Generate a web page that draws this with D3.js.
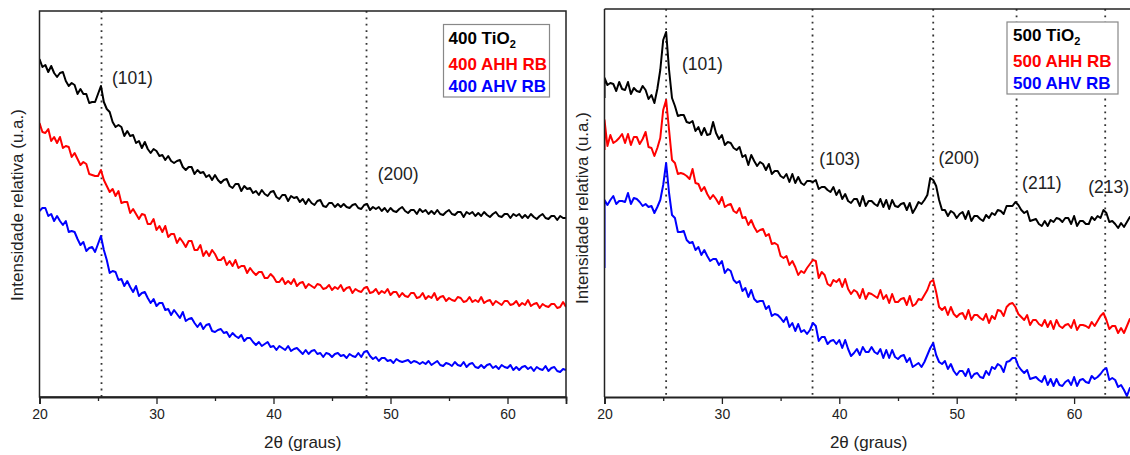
<!DOCTYPE html>
<html><head><meta charset="utf-8">
<script src="https://cdn.jsdelivr.net/npm/d3@7"></script>
<style>
body{margin:0;background:#fff;}
text{font-family:"Liberation Sans",Arial,Helvetica,sans-serif;}
</style>
</head><body>
<svg id="chart" width="1130" height="455"></svg>
<script>
// ---------- DATA ----------
const twoTheta = d3.range(20, 65.001, 0.25);          // 2θ grid (degrees)
const twoThetaR = [20].concat(twoTheta);              // right panel (first reading at 20°)
const xTicks = [20, 30, 40, 50, 60];
const xMinorTicks = [25, 35, 45, 55, 65];

const leftNames = ["400 TiO2", "400 AHH RB", "400 AHV RB"];
const rightNames = ["500 TiO2", "500 AHH RB", "500 AHV RB"];
const seriesColors = ["#000000", "#ff0000", "#0000ff"];

const left400TiO2 = [341,333,335,328, 334,327,323,327, 328,319,314,317, 315,306,311,306, 306,297,298,298, 306,314,298,291, 288,278,273,275, 273,264,269,264, 265,257,259,252, 258,251,247,251, 249,244,245,240, 244,239,237,239, 240,233,230,233, 233,226,230,227, 228,223,225,220, 225,220,217,220, 221,214,212,216, 216,209,214,211, 212,207,209,205, 210,206,204,208, 209,203,201,205, 205,199,204,202, 203,198,201,196, 201,197,195,199, 200,194,193,197, 197,193,196,193, 196,193,192,195, 196,192,191,195, 196,190,193,191, 193,189,192,188, 192,189,188,191, 193,189,187,190, 190,186,191,188, 190,186,189,186, 190,186,185,188, 190,186,185,188, 188,183,188,186, 188,184,187,184, 188,185,183,186, 188,184,183,186, 186,182,186,184, 186,182,185,182, 186,183,181,184, 186,182,181,184, 184,180,184,182, 182];
const left400AHH = [277,268,267,271, 259,263,257,263, 252,254,253,243, 247,241,235,238, 236,226,225,224, 224,230,220,214, 208,211,204,209, 197,198,198,187, 191,186,181,186, 185,176,176,181, 170,174,168,174, 163,166,166,157, 162,158,153,159, 159,150,150,155, 144,149,144,150, 146,140,140,143, 135,139,134,140, 132,134,134,127, 132,128,125,128, 128,122,122,126, 123,118,118,122, 116,119,116,121, 114,117,118,112, 116,114,112,116, 115,111,112,115, 110,113,111,115, 109,112,113,107, 111,109,108,112, 113,107,108,111, 106,109,107,111, 105,108,108,103, 107,104,103,107, 107,102,103,107, 101,104,102,107, 100,103,104,99, 102,100,99,103, 102,98,99,103, 98,100,98,103, 97,99,100,95, 99,97,95,99, 99,95,96,99, 94,97,95,100, 94,96,97,92, 96,94,93,96, 96,92,93,98, 93];
const left400AHV = [189,192,192,184, 186,179,184,179, 175,179,168,169, 168,161,155,158, 149,152,153,148, 156,164,150,140, 127,129,128,120, 121,114,119,113, 108,114,104,107, 108,102,97,101, 94,97,97,90, 91,85,90,86, 82,88,79,81, 82,77,73,77, 71,75,76,69, 68,70,71,67, 68,63,67,64, 62,65,59,62, 62,58,55,58, 54,56,58,53, 54,50,54,52, 50,54,49,51, 52,49,46,50, 46,49,50,46, 47,43,47,46, 43,46,47,44, 45,42,46,44, 43,47,43,48, 49,44,41,43, 39,42,42,39, 40,37,41,39, 38,39,40,37, 39,38,36,38, 36,39,35,37, 39,35,34,37, 36,34,38,35, 34,38,33,36, 37,33,32,35, 32,35,36,32, 34,31,35,33, 32,35,30,33, 30,33,34,31, 33,29,33,31, 30,34,29,32, 33,29,28,31, 30];

const right500TiO2 = [302, 322,315,317,316, 309,318,311,310, 318,306,312,309, 308,314,310,301, 305,297,311,330, 360,368,330,302, 294,284,285,285, 278,277,279,269, 273,265,272,265, 266,278,267,261, 265,255,258,257, 252,250,253,243, 245,235,245,239, 234,238,236,230, 236,226,229,229, 224,222,226,218, 226,217,223,217, 215,219,219,218, 220,211,213,213, 210,208,213,205, 210,201,206,199, 197,201,201,194, 204,194,199,199, 196,194,201,193, 200,191,200,194, 193,196,197,190, 197,187,192,198, 196,200,205,222, 220,214,200,190, 190,184,189,187, 182,186,188,181, 189,179,184,184, 181,179,185,182, 187,185,190,189, 186,194,194,194, 198,195,190,187, 189,179,180,181, 176,174,179,174, 180,178,182,181, 178,182,182,176, 184,174,179,179, 176,176,183,180, 184,182,190,187, 178,179,176,172, 177,173,178,183, 180];
const right500AHH = [250, 280,254,265,257, 259,262,266,257, 266,255,263,263, 256,261,268,253, 252,244,252,262, 290,300,270,240, 237,226,227,226, 224,221,231,217, 216,209,213,206, 201,205,201,196, 203,193,195,196, 189,187,192,182, 183,175,180,173, 168,170,171,164, 166,156,157,155, 144,142,144,135, 139,133,125,129, 127,132,136,140, 139,122,128,125, 116,114,120,118, 121,113,121,111, 106,110,108,102, 111,101,107,106, 104,102,110,101, 105,97,106,98, 98,101,102,95, 104,94,96,101, 100,105,110,118, 120,108,93,90, 93,85,93,86, 83,86,87,81, 90,80,85,85, 82,80,86,77, 84,81,90,89, 84,93,96,97, 93,86,83,80, 85,75,80,80, 76,74,80,73, 79,71,80,74, 72,75,76,72, 80,70,75,75, 74,72,78,74, 79,84,87,80, 71,74,74,67, 72,67,74,81, 80];
const right500AHV = [132, 200,195,200,204, 196,199,199,198, 207,196,202,201, 198,194,196,193, 194,187,193,200, 215,237,207,185, 182,168,168,169, 160,157,158,150, 153,145,150,144, 139,141,141,135, 139,127,131,129, 120,117,119,109, 112,103,110,101, 98,99,99,91, 94,84,86,85, 82,78,83,73, 77,69,76,68, 70,66,70,77, 74,59,63,63, 56,59,60,56, 60,52,60,51, 44,47,51,45, 53,48,48,53, 48,46,51,42, 50,42,50,43, 41,44,45,38, 42,33,35,37, 33,38,45,52, 57,45,38,36, 39,31,36,29, 25,29,29,24, 31,22,26,27, 23,22,29,25, 33,31,36,34, 28,38,39,42, 42,34,30,27, 30,21,22,23, 20,18,24,15, 21,14,21,15, 14,18,20,15, 23,14,20,21, 18,17,24,21, 23,26,30,32, 20,22,20,13, 15,10,4,12, 8];

const leftPeakPositions = [25.3, 47.95];
const leftPeakLabels = ["(101)", "(200)"];
const rightPeakPositions = [25.25, 37.72, 48.0, 55.1, 62.65];
const rightPeakLabels = ["(101)", "(103)", "(200)", "(211)", "(213)"];

const xTitle = "2θ (graus)";
const yTitle = "Intensidade relativa (u.a.)";

// ---------- DRAW ----------
const svg = d3.select("#chart");
const textColor = "#222";

function drawPanel(cfg) {
  const g = svg.append("g");
  const x = d3.scaleLinear().domain([20, 65]).range([cfg.left, cfg.right]);
  const y = d3.scaleLinear().domain(cfg.yDomain).range([cfg.bottom, cfg.top]);

  const clipId = "clip" + cfg.id;
  svg.append("clipPath").attr("id", clipId).append("rect")
    .attr("x", cfg.left).attr("y", cfg.top)
    .attr("width", cfg.right - cfg.left).attr("height", cfg.bottom - cfg.top);

  // dotted reference lines
  g.selectAll("line.ref").data(cfg.peaks).enter().append("line")
    .attr("x1", d => x(d)).attr("x2", d => x(d))
    .attr("y1", cfg.top).attr("y2", cfg.bottom)
    .attr("stroke", "#333").attr("stroke-width", 1.8)
    .attr("stroke-dasharray", "1.8,4.6");

  // series
  const line = d3.line().x(d => x(d[0])).y(d => y(d[1]));
  const lines = g.append("g").attr("clip-path", `url(#${clipId})`);
  cfg.series.forEach((vals, i) => {
    const pts = vals.map((v, k) => [cfg.xs[k], v]);
    lines.append("path").datum(pts)
      .attr("d", line).attr("fill", "none")
      .attr("stroke", seriesColors[i]).attr("stroke-width", cfg.lineWidth)
      .attr("stroke-linejoin", "round");
  });

  // frame
  if (cfg.fullBox) {
    g.append("rect").attr("x", cfg.left).attr("y", cfg.top)
      .attr("width", cfg.right - cfg.left).attr("height", cfg.bottom - cfg.top)
      .attr("fill", "none").attr("stroke", "#222").attr("stroke-width", 1.5);
  } else {
    g.append("line").attr("x1", cfg.left).attr("x2", cfg.right)
      .attr("y1", cfg.top).attr("y2", cfg.top).attr("stroke", "#222").attr("stroke-width", 1.5);
    g.append("line").attr("x1", cfg.left).attr("x2", cfg.left)
      .attr("y1", cfg.top).attr("y2", cfg.bottom).attr("stroke", "#222").attr("stroke-width", 1.5);
  }

  // x axis: major + minor ticks
  const axG = g.append("g").attr("transform", `translate(0,${cfg.bottom})`)
    .call(d3.axisBottom(x).tickValues(xTicks).tickSize(7).tickPadding(5).tickFormat(d3.format("d")));
  axG.select(".domain").attr("stroke", "#222").attr("stroke-width", 1.8);
  axG.selectAll(".tick line").attr("stroke", "#222").attr("stroke-width", 1.3);
  axG.selectAll(".tick text").attr("font-size", 14).attr("fill", textColor)
    .style("font-family", '"Liberation Sans",Arial,sans-serif');
  const minG = g.append("g").attr("transform", `translate(0,${cfg.bottom})`)
    .call(d3.axisBottom(x).tickValues(xMinorTicks).tickSize(4).tickFormat(""));
  minG.select(".domain").remove();
  minG.selectAll(".tick line").attr("stroke", "#222").attr("stroke-width", 1.3);

  // titles
  g.append("text").attr("x", (cfg.left + Math.min(cfg.right, 1133)) / 2).attr("y", 448)
    .attr("text-anchor", "middle").attr("font-size", 17).attr("fill", textColor).text(xTitle);
  g.append("text").attr("transform", `translate(${cfg.yLabelX},${cfg.yLabelY}) rotate(-90)`)
    .attr("text-anchor", "middle").attr("font-size", 17).attr("fill", textColor).text(yTitle);

  // peak labels
  g.selectAll("text.peak").data(cfg.peakLabels).enter().append("text")
    .attr("x", (d, i) => x(cfg.peakLabelAt[i][0])).attr("y", (d, i) => y(cfg.peakLabelAt[i][1]))
    .attr("font-size", 17.5).attr("fill", textColor).text(d => d);

  // legend
  const lg = g.append("g");
  lg.append("rect").attr("x", cfg.legend.x).attr("y", cfg.legend.y)
    .attr("width", cfg.legend.w).attr("height", cfg.legend.h)
    .attr("fill", "#fff").attr("stroke", "#888").attr("stroke-width", 1.2);
  cfg.names.forEach((name, i) => {
    const t = lg.append("text").attr("x", cfg.legend.x + cfg.legend.pad)
      .attr("y", cfg.legend.baselines[i]).attr("font-size", 17)
      .attr("font-weight", "bold").attr("fill", seriesColors[i]);
    const m = name.match(/^(.*TiO)(2)$/);
    if (m) {
      t.append("tspan").text(m[1]);
      t.append("tspan").attr("font-size", 11).attr("dy", 4).text(m[2]);
    } else {
      t.text(name);
    }
  });
}

drawPanel({
  id: "L", left: 39.5, right: 566, top: 11, bottom: 397, yDomain: [3, 389],
  xs: twoTheta, series: [left400TiO2, left400AHH, left400AHV], lineWidth: 2,
  peaks: leftPeakPositions, peakLabels: leftPeakLabels,
  peakLabelAt: [[26.2, 316], [48.9, 220]],
  fullBox: true, yLabelX: 23, yLabelY: 205, names: leftNames,
  legend: {x: 443.5, y: 24.5, w: 106, h: 72.5, pad: 5, baselines: [44, 70, 92]}
});

drawPanel({
  id: "R", left: 604.5, right: 1132.8, top: 9, bottom: 397, yDomain: [3, 391],
  xs: twoThetaR, series: [right500TiO2, right500AHH, right500AHV], lineWidth: 2,
  peaks: rightPeakPositions, peakLabels: rightPeakLabels,
  peakLabelAt: [[26.6, 330], [38.3, 235], [48.45, 236], [55.57, 211], [61.2, 207]],
  fullBox: false, yLabelX: 588, yLabelY: 208, names: rightNames,
  legend: {x: 1007, y: 22, w: 111, h: 72, pad: 6, baselines: [41, 67, 89]}
});
</script>
</body></html>
